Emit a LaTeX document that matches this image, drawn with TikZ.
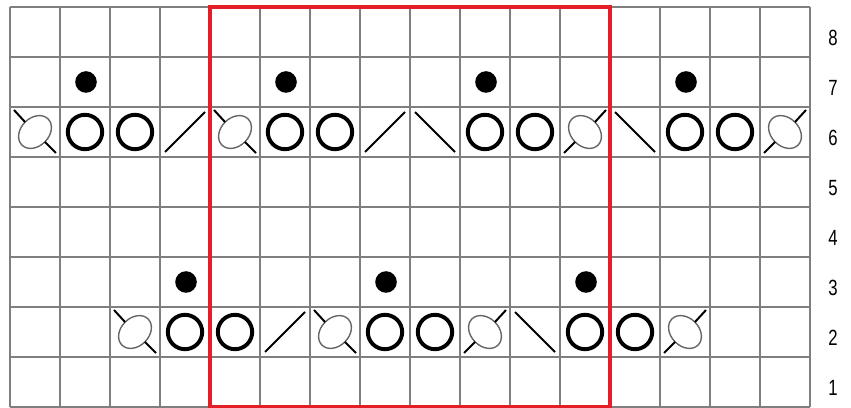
\documentclass[tikz,border=0pt]{standalone}
\usepackage{fontspec}
\setmainfont{Liberation Sans}
\definecolor{gridgray}{HTML}{7F7F7F}
\definecolor{ovalgray}{HTML}{666666}
\definecolor{redbox}{HTML}{E31E26}
\tikzset{
  x=1pt, y=1pt,
  gridline/.style={draw=gridgray, line width=1.3pt},
  blackline/.style={draw=black, line width=2pt},
  ringline/.style={draw=black, line width=3.9pt},
  ovalline/.style={draw=ovalgray, line width=1.4pt},
  rownum/.style={font=\fontsize{22}{22}\selectfont, xscale=0.76, transform shape, inner sep=0pt},
  pics/purl/.style={code={\fill[black] (0,0) circle (10.8pt);}},
  pics/yarnover/.style={code={\draw[ringline] (0,0) circle (17.2pt);}},
  pics/ktogr/.style={code={\draw[blackline] (-20,-20) -- (20,20);}},
  pics/ktogl/.style={code={\draw[blackline] (-20,20) -- (20,-20);}},
  pics/twistl/.style={code={
    \draw[ovalline, rotate=45] (0,0) ellipse [x radius=18.5pt, y radius=14pt];
    \draw[blackline] (-21,22) -- (-9.9,9.9);
    \draw[blackline] (9.9,-9.9) -- (21,-21);}},
  pics/twistr/.style={code={
    \draw[ovalline, rotate=-45] (0,0) ellipse [x radius=18.5pt, y radius=14pt];
    \draw[blackline] (-21,-21) -- (-9.9,-9.9);
    \draw[blackline] (9.9,9.9) -- (21,22);}},
}
\begin{document}
\begin{tikzpicture}
\useasboundingbox (0,0) rectangle (851,407);
\fill[white] (0,0) rectangle (851,407);
% grid
\foreach \i in {0,...,16} \draw[gridline] (10+50*\i,0) -- (10+50*\i,400);
\foreach \j in {0,...,8} \draw[gridline] (10,50*\j) -- (810,50*\j);
% row numbers
\foreach \r in {1,...,8} \node[rownum] (num\r) at (833,50*\r-31) {\r};
% row 7 purl dots
\foreach \c in {1,5,9,13} \pic at (36+50*\c,325) {purl};
% row 3 purl dots
\foreach \c in {3,7,11} \pic at (36+50*\c,125) {purl};
% row 6
\foreach \c/\s in {0/twistl,1/yarnover,2/yarnover,3/ktogr,4/twistl,5/yarnover,6/yarnover,7/ktogr,8/ktogl,9/yarnover,10/yarnover,11/twistr,12/ktogl,13/yarnover,14/yarnover,15/twistr}
  \pic at (35+50*\c,275) {\s};
% row 2
\foreach \c/\s in {2/twistl,3/yarnover,4/yarnover,5/ktogr,6/twistl,7/yarnover,8/yarnover,9/twistr,10/ktogl,11/yarnover,12/yarnover,13/twistr}
  \pic at (35+50*\c,75) {\s};
% red repeat box
\draw[draw=redbox, line width=4pt] (210,0) rectangle (610,400);
\end{tikzpicture}
\end{document}
